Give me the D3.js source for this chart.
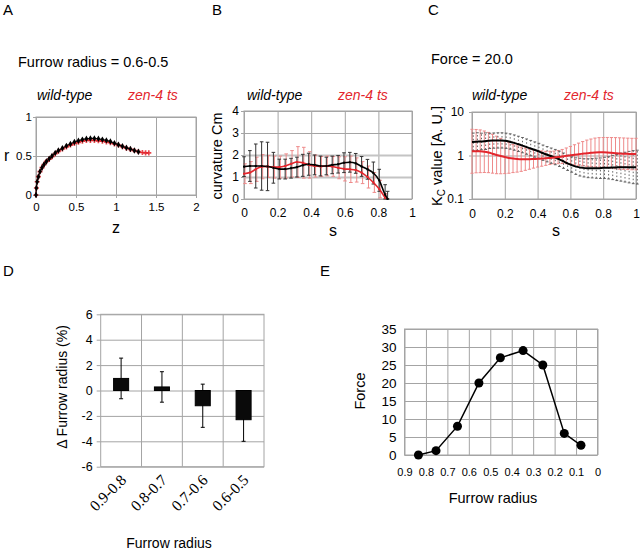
<!DOCTYPE html>
<html><head><meta charset="utf-8">
<script src="https://cdn.jsdelivr.net/npm/d3@7"></script>
<style>body{margin:0;background:#fff}svg{display:block}</style>
</head><body>
<svg id="c" width="641" height="551"></svg>
<script>
// ---------- DATA ----------
// Panel A: furrow shape (z, r)
const aWtZ = [0,0.005,0.015,0.03,0.05,0.075,0.1,0.13,0.165,0.2,0.24,0.28,0.33,0.38,0.43,0.48,0.53,0.58,0.63,0.68,0.73,0.78,0.83,0.88,0.93,0.98,1.03,1.08,1.13,1.18,1.23,1.28];
const aWtR = [0,0.09,0.17,0.235,0.3,0.35,0.39,0.43,0.465,0.5,0.54,0.57,0.6,0.63,0.655,0.68,0.695,0.71,0.72,0.725,0.725,0.72,0.71,0.7,0.685,0.665,0.645,0.625,0.605,0.59,0.57,0.555];
const aZenZ = [0,0.005,0.015,0.03,0.05,0.075,0.1,0.13,0.165,0.2,0.24,0.28,0.33,0.38,0.43,0.48,0.53,0.58,0.63,0.68,0.73,0.78,0.83,0.88,0.93,0.98,1.03,1.08,1.13,1.18,1.23,1.28,1.33,1.37,1.41];
const aZenR = [0,0.09,0.17,0.235,0.3,0.35,0.39,0.43,0.46,0.49,0.53,0.56,0.59,0.615,0.64,0.66,0.675,0.69,0.7,0.7,0.7,0.695,0.69,0.68,0.67,0.655,0.64,0.62,0.6,0.585,0.57,0.555,0.545,0.54,0.54];
// Panel B: curvature vs s
const bS    = [0,0.035,0.07,0.105,0.14,0.175,0.21,0.245,0.28,0.315,0.35,0.385,0.42,0.455,0.49,0.525,0.56,0.595,0.63,0.665,0.7,0.735,0.77,0.805,0.84,0.855];
const bWt   = [1.47,1.5,1.5,1.5,1.48,1.42,1.36,1.36,1.4,1.45,1.53,1.58,1.55,1.5,1.5,1.55,1.58,1.65,1.67,1.62,1.48,1.35,1.18,0.85,0.2,0];
const bWtE  = [0.45,0.7,1.0,1.1,1.1,0.7,0.45,0.45,0.45,0.45,0.5,0.5,0.45,0.45,0.4,0.4,0.4,0.45,0.45,0.45,0.45,0.45,0.5,0.5,0.45,0.35];
const bZen  = [1.15,1.2,1.35,1.47,1.48,1.45,1.45,1.5,1.6,1.68,1.65,1.55,1.5,1.48,1.5,1.48,1.42,1.37,1.35,1.32,1.2,1.0,0.75,0.45,0.05];
const bZenE = [0.45,0.5,0.55,0.55,0.5,0.5,0.5,0.55,0.6,0.7,0.7,0.6,0.5,0.45,0.45,0.45,0.5,0.55,0.6,0.55,0.5,0.5,0.45,0.4,0.2];
// Panel C: Kc value vs s (log scale), errors as multiplicative factors
const cS = [0,0.025,0.05,0.075,0.1,0.125,0.15,0.175,0.2,0.225,0.25,0.275,0.3,0.325,0.35,0.375,0.4,0.425,0.45,0.475,0.5,0.525,0.55,0.575,0.6,0.625,0.65,0.675,0.7,0.725,0.75,0.775,0.8,0.825,0.85,0.875,0.9,0.925,0.95,0.975,1];
const cWt  = [2.05,2.08,2.1,2.13,2.17,2.2,2.22,2.22,2.18,2.1,1.98,1.85,1.73,1.6,1.48,1.37,1.27,1.16,1.07,0.99,0.92,0.84,0.76,0.68,0.62,0.57,0.54,0.52,0.51,0.51,0.51,0.51,0.52,0.52,0.53,0.53,0.54,0.54,0.54,0.54,0.54];
const cWtF = [1.6,1.6,1.55,1.55,1.5,1.5,1.5,1.5,1.5,1.5,1.5,1.5,1.5,1.5,1.5,1.5,1.5,1.5,1.5,1.5,1.5,1.5,1.5,1.5,1.5,1.55,1.6,1.62,1.65,1.67,1.7,1.72,1.75,1.8,1.9,2.0,2.1,2.2,2.3,2.4,2.45];
const cZen  = [1.25,1.26,1.25,1.22,1.17,1.1,1.03,0.97,0.92,0.88,0.85,0.83,0.82,0.82,0.82,0.83,0.84,0.85,0.86,0.88,0.9,0.92,0.95,0.98,1.01,1.04,1.07,1.1,1.13,1.15,1.17,1.18,1.18,1.17,1.15,1.13,1.11,1.1,1.09,1.08,1.08];
const cZenF = [3.2,3.15,3.1,3.0,2.9,2.8,2.7,2.55,2.4,2.25,2.1,2.0,1.9,1.8,1.7,1.62,1.55,1.5,1.45,1.42,1.4,1.42,1.45,1.52,1.6,1.7,1.8,1.9,2.0,2.08,2.15,2.18,2.2,2.22,2.25,2.28,2.3,2.3,2.3,2.3,2.3];
// Panel D
const dCats = ["0.9-0.8","0.8-0.7","0.7-0.6","0.6-0.5"];
const dVals = [0.95,0.28,-1.2,-2.3];
const dErrs = [1.6,1.2,1.7,1.7];
// Panel E
const eX = [0.835,0.753,0.653,0.553,0.453,0.347,0.255,0.155,0.077];
const eY = [0,1.2,8,20,27,29,25,6,2.7];
// Tick values
const aXT = [0,0.5,1,1.5,2], aYT = [0,0.5,1];
const bXT = [0,0.2,0.4,0.6,0.8,1], bYT = [0,1,2,3,4];
const cXT = [0,0.2,0.4,0.6,0.8,1], cYT = [0.1,1,10];
const dYT = [-6,-4,-2,0,2,4,6];
const eXT = [0.9,0.8,0.7,0.6,0.5,0.4,0.3,0.2,0.1,0], eYT = [0,5,10,15,20,25,30,35];

// ---------- STYLE ----------
const FONT = '"Liberation Sans", Arial, Helvetica, sans-serif';
const SERIF = '"Liberation Serif", "Times New Roman", serif';
const RED = "#e3262d", PINK = "#ee8a8a";
const GRID = "#a4a4a4";
const svg = d3.select("#c");

function txt(x, y, s, o = {}) {
  const t = svg.append("text").attr("x", x).attr("y", y).text(s)
    .attr("font-family", o.ff || FONT).attr("font-size", o.fs || 14)
    .attr("fill", o.fill || "#000").attr("text-anchor", o.anchor || "start");
  if (o.italic) t.attr("font-style", "italic");
  if (o.rot) t.attr("transform", `rotate(${o.rot},${x},${y})`);
  return t;
}

function gridAxes(x, y, xt, yt, o) {
  const [xa, xb] = x.range(), [ya, yb] = y.range();
  const g = svg.append("g");
  g.append("g").attr("transform", `translate(0,${ya})`)
    .call(d3.axisBottom(x).tickValues(xt).tickSize(-(ya - yb)).tickFormat(""))
    .call(s => { s.select(".domain").remove(); s.selectAll("line").attr("stroke", GRID); });
  g.append("g").attr("transform", `translate(${xa},0)`)
    .call(d3.axisLeft(y).tickValues(yt).tickSize(-(xb - xa)).tickFormat(""))
    .call(s => { s.select(".domain").remove();
      s.selectAll("line").attr("stroke", d => (o.thick && o.thick.includes(d)) ? "#c4c4c4" : GRID)
        .attr("stroke-width", d => (o.thick && o.thick.includes(d)) ? 2 : 1); });
  g.append("rect").attr("x", xa).attr("y", yb).attr("width", xb - xa).attr("height", ya - yb)
    .attr("fill", "none").attr("stroke", GRID);
  g.append("g").attr("transform", `translate(0,${ya})`)
    .call(d3.axisBottom(x).tickValues(xt).tickSize(o.xTick || 0).tickPadding(o.xPad).tickFormat(String))
    .call(s => { s.select(".domain").remove(); s.selectAll("line").attr("stroke", GRID);
      s.selectAll("text").attr("font-family", FONT).attr("font-size", o.xfs).attr("fill", "#000"); });
  g.append("g").attr("transform", `translate(${xa},0)`)
    .call(d3.axisLeft(y).tickValues(yt).tickSize(o.yTick || 0).tickPadding(o.yPad).tickFormat(String))
    .call(s => { s.select(".domain").remove(); s.selectAll("line").attr("stroke", GRID);
      s.selectAll("text").attr("font-family", FONT).attr("font-size", o.yfs).attr("fill", "#000"); });
  return g;
}

function errBars(g, data, x, y, color, cap, dash, w) {
  const sel = g.append("g").attr("stroke", color).attr("stroke-width", w || 1).attr("fill", "none");
  data.forEach(d => {
    const v = sel.append("line").attr("x1", x(d.s)).attr("x2", x(d.s)).attr("y1", y(d.lo)).attr("y2", y(d.hi));
    if (dash) v.attr("stroke-dasharray", dash);
    sel.append("line").attr("x1", x(d.s) - cap).attr("x2", x(d.s) + cap).attr("y1", y(d.lo)).attr("y2", y(d.lo));
    sel.append("line").attr("x1", x(d.s) - cap).attr("x2", x(d.s) + cap).attr("y1", y(d.hi)).attr("y2", y(d.hi));
  });
}

// ---------- PANEL A ----------
{
  const x = d3.scaleLinear().domain([0, 2]).range([36, 196]);
  const y = d3.scaleLinear().domain([0, 1]).range([195, 117]);
  gridAxes(x, y, aXT, aYT, { xTick: 3, xPad: 5, yTick: 3, yPad: 1, xfs: 11.5, yfs: 11.5 });
  const zen = aZenZ.map((z, i) => [z, aZenR[i]]);
  const wt = aWtZ.map((z, i) => [z, aWtR[i]]);
  const line = d3.line().x(d => x(d[0])).y(d => y(d[1])).curve(d3.curveCatmullRom);
  svg.append("path").attr("d", line(zen)).attr("fill", "none").attr("stroke", RED).attr("stroke-width", 1.2);
  svg.append("g").selectAll("path").data(zen).join("path")
    .attr("d", d3.symbol(d3.symbolCross, 14)).attr("transform", d => `translate(${x(d[0])},${y(d[1])})`)
    .attr("fill", RED).attr("opacity", 0.85);
  svg.append("path").attr("d", line(wt)).attr("fill", "none").attr("stroke", "#111").attr("stroke-width", 1.2);
  svg.append("g").selectAll("path").data(wt).join("path")
    .attr("d", d3.symbol(d3.symbolDiamond, 12)).attr("transform", d => `translate(${x(d[0])},${y(d[1])})`)
    .attr("fill", "#000");
  txt(3, 15, "A", { fs: 15 });
  txt(18, 67, "Furrow radius = 0.6-0.5", { fs: 14.5 });
  txt(37, 100, "wild-type", { italic: true });
  txt(128, 100, "zen-4 ts", { italic: true, fill: RED });
  txt(4, 161, "r", { fs: 16 });
  txt(116, 233, "z", { fs: 16, anchor: "middle" });
}

// ---------- PANEL B ----------
{
  const x = d3.scaleLinear().domain([0, 1]).range([244, 412]);
  const y = d3.scaleLinear().domain([0, 4]).range([199, 111]);
  gridAxes(x, y, bXT, bYT, { xTick: 0, xPad: 9, yTick: 3, yPad: 2, xfs: 12, yfs: 12, thick: [1, 2] });
  const g = svg.append("g");
  const zen = bZen.map((v, i) => ({ s: bS[i], v, lo: Math.max(0, v - bZenE[i]), hi: v + bZenE[i] }));
  const wt = bWt.map((v, i) => ({ s: bS[i], v, lo: Math.max(0, v - bWtE[i]), hi: v + bWtE[i] }));
  errBars(g, zen.map(d => ({ ...d, s: d.s + 0.006 })), x, y, PINK, 1.8);
  errBars(g, wt, x, y, "#333", 1.8);
  const line = d3.line().x(d => x(d.s)).y(d => y(d.v)).curve(d3.curveMonotoneX);
  g.append("path").attr("d", line(zen)).attr("fill", "none").attr("stroke", RED).attr("stroke-width", 1.6);
  g.append("path").attr("d", line(wt)).attr("fill", "none").attr("stroke", "#000").attr("stroke-width", 1.6);
  g.selectAll(null).data(zen).join("rect").attr("x", d => x(d.s) - 1).attr("y", d => y(d.v) - 1).attr("width", 2).attr("height", 2).attr("fill", RED);
  g.selectAll(null).data(wt).join("rect").attr("x", d => x(d.s) - 1).attr("y", d => y(d.v) - 1).attr("width", 2).attr("height", 2).attr("fill", "#000");
  txt(212, 15, "B", { fs: 15 });
  txt(247, 100, "wild-type", { italic: true });
  txt(338, 100, "zen-4 ts", { italic: true, fill: RED });
  txt(222, 156, "curvature Cm", { fs: 14.5, anchor: "middle", rot: -90 });
  txt(333, 236, "s", { fs: 16, anchor: "middle" });
}

// ---------- PANEL C ----------
{
  const x = d3.scaleLinear().domain([0, 1]).range([472, 636]);
  const y = d3.scaleLog().domain([0.1, 10]).range([199, 112]);
  gridAxes(x, y, cXT, cYT, { xTick: 0, xPad: 10, yTick: 3, yPad: 5, xfs: 12, yfs: 12 });
  const g = svg.append("g");
  const zen = cZen.map((v, i) => ({ s: cS[i], v, lo: v / cZenF[i], hi: v * cZenF[i] }));
  const wt = cWt.map((v, i) => ({ s: cS[i], v, lo: v / cWtF[i], hi: v * cWtF[i] }));
  errBars(g, zen, x, y, PINK, 1.6, null, 1);
  errBars(g, wt.map(d => ({ ...d, s: d.s + 0.008 })), x, y, "#555", 1.4, "1.5,2", 0.9);
  const line = d3.line().x(d => x(d.s)).y(d => y(d.v)).curve(d3.curveMonotoneX);
  g.append("path").attr("d", line(wt)).attr("fill", "none").attr("stroke", "#000").attr("stroke-width", 2);
  g.append("path").attr("d", line(zen)).attr("fill", "none").attr("stroke", RED).attr("stroke-width", 2);
  txt(428, 15, "C", { fs: 15 });
  txt(431, 64, "Force = 20.0", { fs: 14.5 });
  txt(472, 100, "wild-type", { italic: true });
  txt(564, 100, "zen-4 ts", { italic: true, fill: RED });
  const t = svg.append("text").attr("transform", "translate(442,156) rotate(-90)")
    .attr("text-anchor", "middle").attr("font-family", FONT).attr("font-size", 14.5);
  t.append("tspan").text("K");
  t.append("tspan").text("C").attr("font-size", 10).attr("dy", 3);
  t.append("tspan").text(" value [A. U.]").attr("dy", -3);
  txt(556, 236, "s", { fs: 16, anchor: "middle" });
}

// ---------- PANEL D ----------
{
  const xb = d3.scaleBand().domain(dCats).range([100.7, 264]).paddingInner(0.632).paddingOuter(0.316);
  const xg = d3.scaleBand().domain(dCats).range([100.7, 264]);
  const y = d3.scaleLinear().domain([-6, 6]).range([466.7, 314.3]);
  const g = svg.append("g");
  g.selectAll(null).data(dCats.slice(1)).join("line")
    .attr("x1", d => xg(d)).attr("x2", d => xg(d)).attr("y1", y(-6)).attr("y2", y(6)).attr("stroke", GRID);
  g.append("g").attr("transform", "translate(100.7,0)")
    .call(d3.axisLeft(y).tickValues(dYT).tickSize(-163.3).tickFormat(""))
    .call(s => { s.select(".domain").remove(); s.selectAll("line").attr("stroke", GRID); });
  g.append("rect").attr("x", 100.7).attr("y", y(6)).attr("width", 163.3).attr("height", y(-6) - y(6)).attr("fill", "none").attr("stroke", GRID);
  g.append("g").attr("transform", "translate(100.7,0)")
    .call(d3.axisLeft(y).tickValues(dYT).tickSize(4).tickPadding(4).tickFormat(String))
    .call(s => { s.select(".domain").remove(); s.selectAll("line").attr("stroke", GRID);
      s.selectAll("text").attr("font-family", FONT).attr("font-size", 12.5).attr("fill", "#000"); });
  const data = dCats.map((c, i) => ({ c, v: dVals[i], e: dErrs[i] }));
  const eb = g.append("g").attr("stroke", "#000").attr("stroke-width", 1);
  data.forEach(d => {
    const cx = xg(d.c) + xg.bandwidth() / 2;
    eb.append("line").attr("x1", cx).attr("x2", cx).attr("y1", y(d.v - d.e)).attr("y2", y(d.v + d.e));
    eb.append("line").attr("x1", cx - 2).attr("x2", cx + 2).attr("y1", y(d.v - d.e)).attr("y2", y(d.v - d.e));
    eb.append("line").attr("x1", cx - 2).attr("x2", cx + 2).attr("y1", y(d.v + d.e)).attr("y2", y(d.v + d.e));
  });
  g.selectAll(null).data(data).join("rect")
    .attr("x", d => xb(d.c)).attr("width", xb.bandwidth())
    .attr("y", d => y(Math.max(0, d.v))).attr("height", d => Math.abs(y(d.v) - y(0)))
    .attr("fill", "#0a0a0a").attr("stroke", "#000");
  g.selectAll(null).data(dCats).join("text")
    .attr("transform", d => `translate(${xg(d) + xg.bandwidth() / 2 + 6},${481}) rotate(-45)`)
    .attr("text-anchor", "end").attr("font-family", SERIF).attr("font-size", 15.5).text(d => d);
  txt(3, 276, "D", { fs: 15 });
  txt(67, 387, "\u0394 Furrow radius (%)", { fs: 14, anchor: "middle", rot: -90 });
  txt(169, 548, "Furrow radius", { fs: 14, anchor: "middle" });
}

// ---------- PANEL E ----------
{
  const x = d3.scaleLinear().domain([0.9, 0]).range([404.5, 597.5]);
  const y = d3.scaleLinear().domain([0, 35]).range([455, 329]);
  gridAxes(x, y, eXT, eYT, { xTick: 0, xPad: 13, yTick: 0, yPad: 8, xfs: 11, yfs: 13.5 });
  const pts = eX.map((v, i) => [v, eY[i]]);
  svg.append("path").attr("d", d3.line().x(d => x(d[0])).y(d => y(d[1]))(pts))
    .attr("fill", "none").attr("stroke", "#000").attr("stroke-width", 1.5);
  svg.append("g").selectAll("circle").data(pts).join("circle")
    .attr("cx", d => x(d[0])).attr("cy", d => y(d[1])).attr("r", 4.5).attr("fill", "#000");
  txt(320, 276, "E", { fs: 15 });
  txt(365, 391, "Force", { fs: 14.5, anchor: "middle", rot: -90 });
  txt(493, 503, "Furrow radius", { fs: 14.5, anchor: "middle" });
}
</script>
</body></html>
